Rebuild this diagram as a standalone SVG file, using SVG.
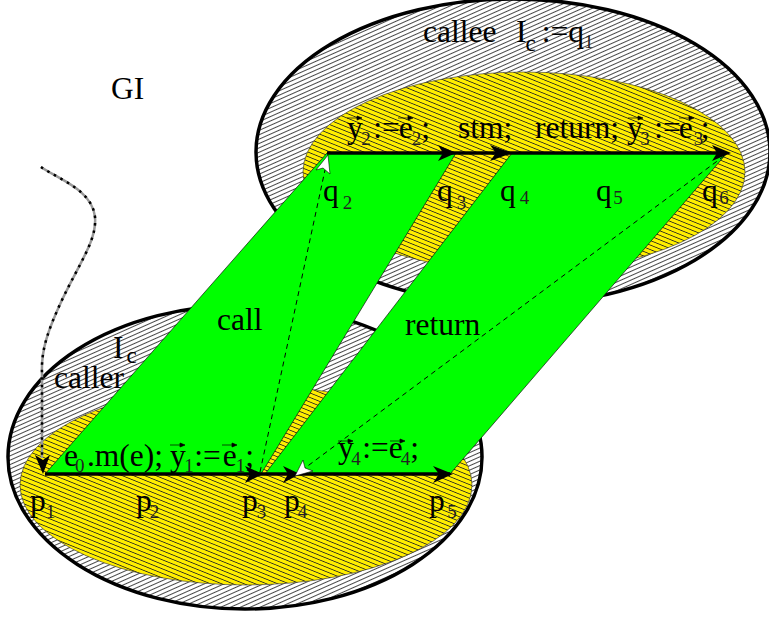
<svg xmlns="http://www.w3.org/2000/svg" xmlns:xlink="http://www.w3.org/1999/xlink" width="769" height="617" viewBox="0 0 769 617">
<style>
text{font-family:"Liberation Serif","Times New Roman",serif;font-size:31.500px;fill:#000}
.s{font-size:19px;fill:#222}
.c{font-size:23px}
.out{fill:url(#hg);stroke:#000;stroke-width:3.5}
.in{fill:url(#hy);stroke:#333;stroke-width:.6}
.gr{fill:#00ff00;stroke:#111;stroke-width:.7}
.flow{fill:none;stroke:#000;stroke-width:3.5}
.dash{fill:none;stroke:#000;stroke-width:1;stroke-dasharray:5 4}
.bh{fill:#000}
.wh{fill:#fff;stroke:#000;stroke-width:.6}
</style>
<defs>
<pattern id="hg" patternUnits="userSpaceOnUse" width="12" height="4" patternTransform="rotate(-24)"><rect width="12" height="4" fill="#fff"/><rect width="12" height=".9" fill="#333"/></pattern>
<pattern id="hy" patternUnits="userSpaceOnUse" width="12" height="4.200" patternTransform="rotate(22)"><rect width="12" height="4.200" fill="#ffee00"/><rect width="12" height=".8" fill="#222"/></pattern>
<path id="v" d="M0 0H13M10 -2L15 0L10 2Z" fill="#000" stroke="#000" stroke-width=".7"/>
</defs>
<g id="callee-region">
<ellipse class="out" cx="513" cy="152" rx="257" ry="153"/>
<ellipse class="in" cx="524" cy="172" rx="221" ry="100"/>
</g>
<g id="caller-region">
<ellipse class="out" cx="245" cy="457" rx="237" ry="152"/>
<ellipse class="in" cx="246" cy="485" rx="226" ry="100"/>
</g>
<g id="call-band"><polygon class="gr" points="45,474 327,153 456,153 261,474"/></g>
<g id="return-band"><polygon class="gr" points="265,474 512,153 727,153 450,474"/></g>
<g id="connectors">
<path class="flow" d="M327 153H725"/>
<path class="flow" d="M45 474H450"/>
<path class="dash" d="M260 472L325 170"/>
<path class="dash" d="M724 156L305 468"/>
<path d="M41 167C60 180 92 190 95 217C97 240 80 262 62 300C48 330 41 350 42 373L42 458" fill="none" stroke="#999" stroke-width="2.500"/>
<path d="M41 167C60 180 92 190 95 217C97 240 80 262 62 300C48 330 41 350 42 373L42 458" fill="none" stroke="#000" stroke-width="2.500" stroke-dasharray="2.500 5"/>
<path class="bh" d="M456 153L438 161L443 153L438 145Z"/>
<path class="bh" d="M512 153L490 161L496 153L490 145Z"/>
<path class="bh" d="M731 153L712 161L717 153L712 145Z"/>
<path class="bh" d="M43 474L35 455L43 460L50 455Z"/>
<path class="bh" d="M263 474L245 483L250 474L245 466Z"/>
<path class="bh" d="M300 474L283 483L288 474L283 466Z"/>
<path class="bh" d="M453 474L433 483L439 474L433 466Z"/>
<path class="wh" d="M328 155L330 174L323 168L316 170Z"/>
<path class="wh" d="M295 476L303 460L305 468L313 471Z"/>
</g>
<g id="labels">
<text x="111" y="99">GI</text>
<text x="423" y="42">callee</text>
<text x="516" y="42">I<tspan class="c" dx="-1" dy="9">c</tspan><tspan dx="6" dy="-9">:=q</tspan><tspan class="s" dy="6">1</tspan></text>
<text x="347" y="138">y<tspan class="s" dx="-1.500" dy="7">2</tspan><tspan dx="2.500" dy="-7">:=</tspan><tspan dx="-1">e</tspan><tspan class="s" dx="-1" dy="7">2</tspan><tspan dy="-7">;</tspan></text>
<text x="458" y="138">stm;</text>
<text x="535" y="138">return;</text>
<text x="627" y="138">y<tspan class="s" dx="-2.500" dy="7">3</tspan><tspan dx="4.500" dy="-7">:=</tspan><tspan dx="-2">e</tspan><tspan class="s" dx="1" dy="7">3</tspan><tspan dx="-2.500" dy="-7">;</tspan></text>
<text x="323" y="201">q<tspan class="s" dx="4" dy="8">2</tspan></text>
<text x="437" y="201">q<tspan class="s" dx="4" dy="8">3</tspan></text>
<text x="500" y="201">q<tspan class="s" dx="4" dy="3">4</tspan></text>
<text x="596" y="201">q<tspan class="s" dx="1.500" dy="3">5</tspan></text>
<text x="702" y="201">q<tspan class="s" dx="1.500" dy="3">6</tspan></text>
<text x="113" y="358">I<tspan class="c" dx="3" dy="5">c</tspan></text>
<text x="54" y="388">caller</text>
<text x="217" y="330">call</text>
<text x="405" y="335">return</text>
<text x="64" y="466">e<tspan class="s" dx="-3" dy="6">0</tspan><tspan dx="2.500" dy="-6">.m(e);</tspan></text>
<text x="170" y="466">y<tspan class="s" dx="-1.500" dy="6">1</tspan><tspan dx=".5" dy="-6">:=</tspan><tspan dx="2">e</tspan><tspan class="s" dx="-1" dy="6">1</tspan><tspan dy="-6">;</tspan></text>
<text x="338" y="458">y<tspan class="s" dx="-2.500" dy="7">4</tspan><tspan dx="1.500" dy="-7">:=</tspan><tspan>e</tspan><tspan class="s" dx="-2" dy="7">4</tspan><tspan dy="-7">;</tspan></text>
<text x="30" y="511">p<tspan class="s" dy="7">1</tspan></text>
<text x="136" y="511">p<tspan class="s" dx="-2" dy="7">2</tspan></text>
<text x="242" y="511">p<tspan class="s" dx="-1" dy="7">3</tspan></text>
<text x="284" y="511">p<tspan class="s" dx="-2" dy="7">4</tspan></text>
<text x="429" y="511">p<tspan class="s" dx="2.500" dy="7">5</tspan></text>
</g>
<g id="vectors">
<use xlink:href="#v" x="347" y="118"/><use xlink:href="#v" x="398" y="118"/>
<use xlink:href="#v" x="628" y="118"/><use xlink:href="#v" x="679" y="118"/>
<use xlink:href="#v" x="170" y="445"/><use xlink:href="#v" x="222" y="445"/>
<use xlink:href="#v" x="338" y="441"/><use xlink:href="#v" x="390" y="441"/>
</g>
</svg>
